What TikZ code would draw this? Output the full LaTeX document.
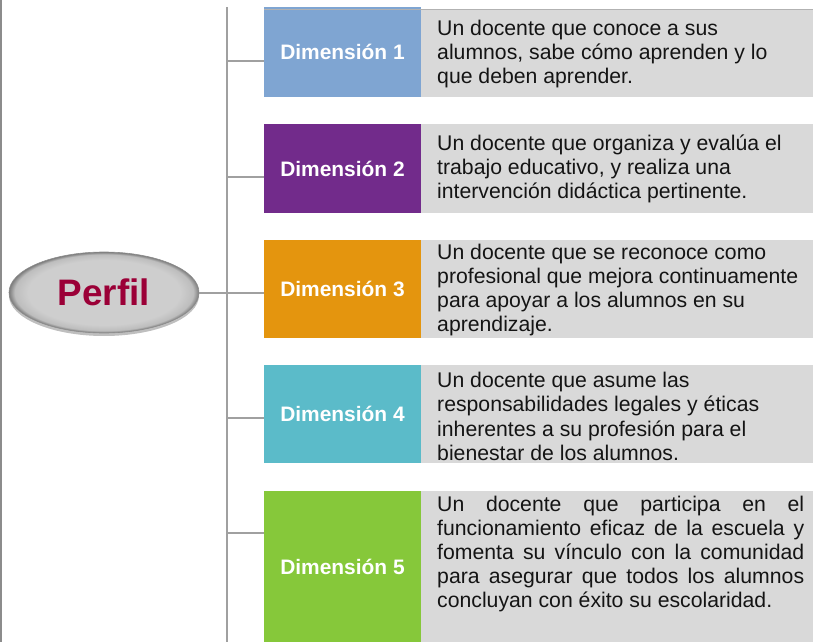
\documentclass[tikz,border=0pt]{standalone}
\usepackage{fontspec}
\setmainfont{Liberation Sans}
\usetikzlibrary{shadows,shapes.geometric}
\definecolor{dimA}{HTML}{7FA5D2}
\definecolor{dimB}{HTML}{722B8B}
\definecolor{dimC}{HTML}{E4950E}
\definecolor{dimD}{HTML}{5BBBC9}
\definecolor{dimE}{HTML}{86C83A}
\definecolor{boxgray}{HTML}{D9D9D9}
\definecolor{linegray}{HTML}{A0A0A0}
\definecolor{framegray}{HTML}{8C8C8C}
\definecolor{perfilred}{HTML}{9B0037}
\definecolor{ellA}{HTML}{CECECE}
\definecolor{ellB}{HTML}{BDBDBD}
\definecolor{ellC}{HTML}{7C7C7C}
\pgfdeclareradialshading{bevel}{\pgfpoint{0bp}{0bp}}{color(0bp)=(ellA); color(20bp)=(ellA); color(23.5bp)=(ellB); color(25bp)=(ellC); color(50bp)=(ellC)}
\begin{document}
\begin{tikzpicture}[x=1bp,y=-1bp,
  dimbox/.style={rectangle, inner sep=0pt, minimum width=157bp, text=white,
    font=\bfseries\fontsize{21}{24}\selectfont},
  descbox/.style={rectangle, fill=boxgray, inner sep=0pt, minimum width=392bp},
  desc/.style={anchor=west, inner sep=0pt, align=left, text=black!92,
    font=\fontsize{21.3}{24.3}\selectfont},
  conn/.style={draw=linegray, line width=1.3bp}]
\useasboundingbox (0,0) rectangle (814,642);
% outer frame line
\coordinate (ftop) at (1,0);
\coordinate (fbot) at (1,642);
\draw[draw=framegray, line width=1.6bp] (ftop) -- (fbot);
% gray description boxes
\node[descbox, minimum height=87bp] (g1) at (617,53.5) {};
\node[descbox, minimum height=89bp] (g2) at (617,168.5) {};
\node[descbox, minimum height=98bp] (g3) at (617,289) {};
\node[descbox, minimum height=98bp] (g4) at (617,414) {};
\node[descbox, minimum height=151bp] (g5) at (617,566.5) {};
% coloured dimension boxes
\node[dimbox, fill=dimA, minimum height=90bp] (d1) at (342.5,52) {Dimensión 1};
\node[dimbox, fill=dimB, minimum height=89bp] (d2) at (342.5,168.5) {Dimensión 2};
\node[dimbox, fill=dimC, minimum height=98bp] (d3) at (342.5,289) {Dimensión 3};
\node[dimbox, fill=dimD, minimum height=98bp] (d4) at (342.5,414) {Dimensión 4};
\node[dimbox, fill=dimE, minimum height=151bp] (d5) at (342.5,566.5) {Dimensión 5};
% thin top rule
\coordinate (ra) at (264,10);
\draw[draw=black!30, line width=1bp] (ra) -- (ra -| g1.east);
% descriptions
\node[desc] (t1) at (437,54) {Un docente que conoce a sus\\alumnos, sabe cómo aprenden y lo\\que deben aprender.};
\node[desc] (t2) at (437,169) {Un docente que organiza y evalúa el\\trabajo educativo, y realiza una\\intervención didáctica pertinente.};
\node[desc] (t3) at (437,290) {Un docente que se reconoce como\\profesional que mejora continuamente\\para apoyar a los alumnos en su\\aprendizaje.};
\node[desc] (t4) at (437,416.5) {Un docente que asume las\\responsabilidades legales y éticas\\inherentes a su profesión para el\\bienestar de los alumnos.};
\node[desc] (t5) at (437,554) {\makebox[367bp][s]{Un docente que participa en el}\\\makebox[367bp][s]{funcionamiento eficaz de la escuela y}\\\makebox[367bp][s]{fomenta su vínculo con la comunidad}\\\makebox[367bp][s]{para asegurar que todos los alumnos}\\concluyan con éxito su escolaridad.};
% Perfil ellipse
\node[ellipse, minimum width=190bp, minimum height=81bp, inner sep=0pt,
  shading=bevel, draw=black!45, line width=0.6bp,
  drop shadow={shadow xshift=0bp, shadow yshift=-3bp, opacity=0.25, fill=black},
  text=perfilred, font=\bfseries\fontsize{37}{40}\selectfont] (perfil) at (104,292.5) {Perfil};
% spine and connectors
\coordinate (stop) at (227,7);
\coordinate (sbot) at (227,642);
\draw[conn] (stop) -- (sbot);
\coordinate (j0) at (227,293);
\coordinate (j1) at (227,61);
\coordinate (j2) at (227,177);
\coordinate (j3) at (227,293);
\coordinate (j4) at (227,418);
\coordinate (j5) at (227,533);
\draw[conn] (perfil.east |- j0) -- (j0);
\draw[conn] (j1) -- (j1 -| d1.west);
\draw[conn] (j2) -- (j2 -| d2.west);
\draw[conn] (j3) -- (j3 -| d3.west);
\draw[conn] (j4) -- (j4 -| d4.west);
\draw[conn] (j5) -- (j5 -| d5.west);
\end{tikzpicture}
\end{document}
